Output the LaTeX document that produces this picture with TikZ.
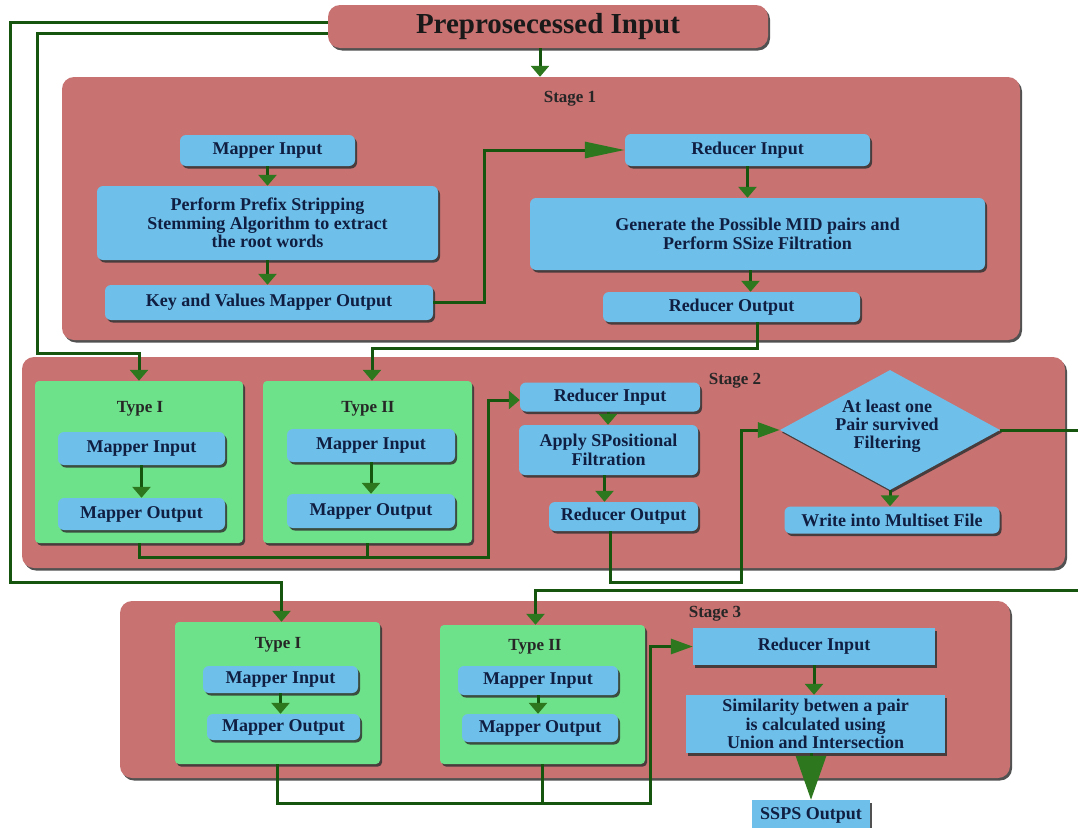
\documentclass[tikz,border=0pt]{standalone}
\usepackage{fontspec}
\setmainfont{Liberation Serif}
\usetikzlibrary{arrows.meta,shapes.geometric,shadows,calc}
\definecolor{pinkc}{RGB}{200,114,114}
\definecolor{bluec}{RGB}{110,192,234}
\definecolor{greenc}{RGB}{110,226,138}
\definecolor{lineg}{RGB}{22,85,14}
\definecolor{arrowg}{RGB}{45,120,30}
\definecolor{navy}{RGB}{16,30,66}
\tikzset{
 wh/.style n args={2}{minimum width=#1,minimum height=#2},
 shd/.style={drop shadow={shadow xshift=2pt,shadow yshift=-2.5pt,fill=black!80,opacity=0.85}},
 stagebox/.style={rectangle,rounded corners=12pt,fill=pinkc,shd,inner sep=0pt},
 greenbox/.style={rectangle,rounded corners=4pt,fill=greenc,shd,inner sep=0pt},
 bluebox/.style={rectangle,rounded corners=6pt,fill=bluec,shd,inner sep=0pt,text=navy,align=center,font=\bfseries\fontsize{18}{18.5}\selectfont},
 sqbox/.style={bluebox,rounded corners=0pt},
 textonly/.style={inner sep=0pt,text=navy,align=center,font=\bfseries\fontsize{18}{18}\selectfont},
 lbl/.style={font=\bfseries\fontsize{17}{18}\selectfont,text=black!85,inner sep=0pt},
 conn/.style={draw=lineg,line width=3pt},
 arr/.style={conn,-{Triangle[width=18pt,length=11pt,color=arrowg]}},
 longarr/.style={conn,-{Triangle[width=16pt,length=40pt,color=arrowg]}},
 bigarr/.style={conn,-{Triangle[width=30pt,length=44pt,color=arrowg]}},
 midarr/.style={conn,-{Triangle[width=15pt,length=22pt,color=arrowg]}},
}
\begin{document}
\begin{tikzpicture}[x=1pt,y=-1pt]
\useasboundingbox (0,0) rectangle (1078,827);
\clip (0,0) rectangle (1078,827);

% stage containers
\node[stagebox,wh={440pt}{43pt},font=\bfseries\fontsize{29}{30}\selectfont,text=black!90] (top) at (548,26.5) {Preprosecessed Input};
\node[stagebox,wh={958pt}{263pt}] (st1) at (541,208.5) {};
\node[stagebox,wh={1043pt}{211pt}] (st2) at (543.5,462.5) {};
\node[stagebox,wh={890pt}{177pt}] (st3) at (565,689.5) {};
\node[lbl] (st1l) at (570,99) {Stage 1};
\node[lbl] (st2l) at (735,381) {Stage 2};
\node[lbl] (st3l) at (715,614) {Stage 3};

% stage 1
\node[bluebox,wh={175pt}{31pt}] (s1mi) at (267.5,150.5) {Mapper Input};
\node[bluebox,wh={341pt}{74pt}] (s1pp) at (267.5,223) {Perform Prefix Stripping\\Stemming Algorithm to extract\\the root words};
\node[bluebox,wh={328pt}{35pt}] (s1kv) at (269,302.5) {Key and Values Mapper Output};
\node[bluebox,wh={245pt}{32pt}] (s1ri) at (747.5,150) {Reducer Input};
\node[bluebox,wh={455pt}{72pt}] (s1gen) at (757.5,234) {Generate the Possible MID pairs and\\Perform SSize Filtration};
\node[bluebox,wh={257pt}{30pt}] (s1ro) at (731.5,307) {Reducer Output};

% stage 2
\node[greenbox,wh={208pt}{162pt}] (g2a) at (139,462) {};
\node[greenbox,wh={209pt}{162pt}] (g2b) at (367.5,462) {};
\node[lbl] (g2al) at (140,409) {Type I};
\node[lbl] (g2bl) at (368,409) {Type II};
\node[bluebox,wh={167pt}{33pt}] (s2aMI) at (141.5,448.5) {Mapper Input};
\node[bluebox,wh={167pt}{32pt}] (s2aMO) at (141.5,514) {Mapper Output};
\node[bluebox,wh={168pt}{33pt}] (s2bMI) at (371,445.5) {Mapper Input};
\node[bluebox,wh={168pt}{34pt}] (s2bMO) at (371,511) {Mapper Output};
\node[bluebox,wh={180pt}{29pt}] (s2ri) at (610,397) {Reducer Input};
\node[bluebox,wh={179pt}{50pt}] (s2ap) at (608.5,450) {Apply SPositional\\Filtration};
\node[bluebox,wh={149pt}{29pt}] (s2ro) at (623.5,516.5) {Reducer Output};
\node[diamond,fill=bluec,shd,inner sep=0pt,wh={220pt}{120pt}] (dia) at (890,430) {};
\node[textonly] (diat) at (887,426) {At least one\\Pair survived\\Filtering};
\node[bluebox,wh={215pt}{27pt}] (s2wm) at (892,520) {Write into Multiset File};

% stage 3
\node[greenbox,wh={205pt}{142pt}] (g3a) at (277.5,693) {};
\node[greenbox,wh={205pt}{139pt}] (g3b) at (542.5,694.5) {};
\node[lbl] (g3al) at (278,645) {Type I};
\node[lbl] (g3bl) at (535,647) {Type II};
\node[bluebox,wh={155pt}{27pt}] (s3aMI) at (280.5,679.5) {Mapper Input};
\node[bluebox,wh={153pt}{26pt}] (s3aMO) at (283.5,727) {Mapper Output};
\node[bluebox,wh={160pt}{29pt}] (s3bMI) at (538,680.5) {Mapper Input};
\node[bluebox,wh={156pt}{28pt}] (s3bMO) at (540,728) {Mapper Output};
\node[sqbox,wh={242pt}{37pt}] (s3ri) at (814,646.5) {Reducer Input};
\node[sqbox,wh={259pt}{58pt}] (s3sim) at (815.5,724) {Similarity betwen a pair\\is calculated using\\Union and Intersection};
\node[sqbox,wh={118pt}{30pt}] (ssps) at (811,815) {SSPS Output};

% connectors from the input
\draw[arr] ([yshift=4pt]top.west) -| (10,582) -| ([xshift=4pt]g3a.north);
\draw[arr] ([yshift=-6.5pt]top.west) -| (37,353) -| (g2a.north);
\draw[arr] ([xshift=-8pt]top.south) -- ([xshift=-8pt]top.south |- st1.north);

% stage 1 connectors
\draw[arr] (s1mi.south) -- (s1mi.south |- s1pp.north);
\draw[arr] (s1pp.south) -- (s1pp.south |- s1kv.north);
\draw[longarr] (s1kv.east) -| (484,226) |- (s1ri.west);
\draw[arr] (s1ri.south) -- (s1ri.south |- s1gen.north);
\draw[arr] ([xshift=19pt]s1ro.north |- s1gen.south) -- ([xshift=19pt]s1ro.north);
\draw[arr] ([xshift=26pt]s1ro.south) -- ++(0,26) -| ([xshift=4.5pt]g2b.north);

% stage 2 connectors
\draw[arr] (s2aMI.south) -- (s2aMI.south |- s2aMO.north);
\draw[arr] (s2bMI.south) -- (s2bMI.south |- s2bMO.north);
\draw[conn] (g2b.south) -- ++(0,14);
\draw[arr] (g2a.south) |- (488,557) |- ([yshift=-3pt]s2ri.west);
\draw[arr] ([xshift=-2pt]s2ri.south) -- ([xshift=-2pt]s2ri.south |- s2ap.north);
\draw[arr] ([xshift=-19pt]s2ro.north |- s2ap.south) -- ([xshift=-19pt]s2ro.north);
\draw[midarr] ([xshift=-13pt]s2ro.south) |- (741,582) |- (dia.west);
\draw[arr] (dia.south) -- (dia.south |- s2wm.north);
\draw[arr] (dia.east) -| (1095,590) -| ([xshift=-7pt]g3b.north);

% stage 3 connectors
\draw[arr] (s3aMI.south) -- (s3aMI.south |- s3aMO.north);
\draw[arr] (s3bMI.south) -- (s3bMI.south |- s3bMO.north);
\draw[conn] (g3b.south) -- ++(0,39);
\draw[midarr] (g3a.south) |- (650,803) |- (s3ri.west);
\draw[arr] (s3ri.south) -- (s3ri.south |- s3sim.north);
\draw[bigarr] (ssps.north |- s3sim.south) -- (ssps.north);
\end{tikzpicture}
\end{document}
